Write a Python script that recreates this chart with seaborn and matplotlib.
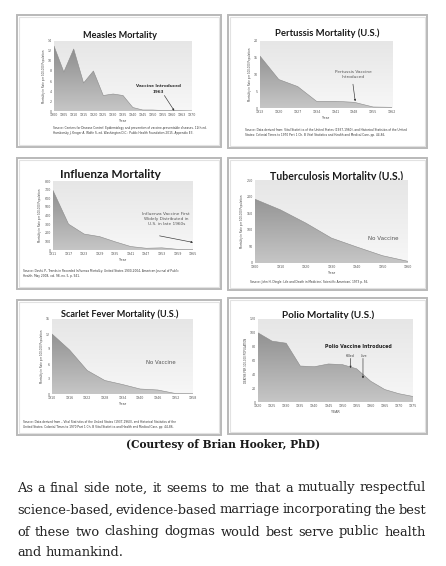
import numpy as np
import matplotlib
matplotlib.use("Agg")
import matplotlib.pyplot as plt
import seaborn as sns
from matplotlib.patches import Rectangle
from matplotlib.colors import LinearSegmentedColormap

sns.set_theme(style="white")
plt.rcParams['font.family'] = ['DejaVu Sans']

W, H = 446, 566

# ---- data ----
measles_years = ["1900", "1905", "1910", "1915", "1920", "1925", "1930", "1935",
                 "1940", "1945", "1950", "1955", "1960", "1963", "1970"]
measles_rate = [13.0, 7.8, 12.4, 5.6, 8.0, 3.1, 3.4, 3.1, 0.7, 0.2, 0.2, 0.1, 0.1, 0.05, 0.02]

pertussis_years = ["1913", "1920", "1927", "1934", "1941", "1948", "1955", "1962"]
pertussis_rate = [15.5, 8.5, 6.4, 2.0, 2.0, 1.7, 0.3, 0.2]

flu_years = ["1911", "1917", "1923", "1929", "1935", "1941", "1947", "1953", "1959", "1965"]
flu_rate = [690, 300, 185, 155, 95, 40, 20, 25, 8, 4]

tb_years = ["1900", "1910", "1920", "1930", "1940", "1950", "1960"]
tb_rate = [192, 160, 120, 75, 48, 22, 5]

scarlet_years = ["1910", "1916", "1922", "1928", "1934", "1940", "1946", "1952", "1958"]
scarlet_rate = [12.0, 8.8, 4.7, 2.7, 1.9, 1.0, 0.8, 0.1, 0.05]

polio_years = ["1920", "1925", "1930", "1935", "1940", "1945", "1950", "1955",
               "1960", "1965", "1970", "1975"]
polio_rate = [100, 88, 85, 52, 51, 55, 54, 48, 30, 18, 12, 8]

area_cmap = LinearSegmentedColormap.from_list("area", ["#c6c6c6", "#878787"])
back_cmap = LinearSegmentedColormap.from_list("back", ["#f7f7f7", "#e6e6e6"])

fig = plt.figure(figsize=(W / 100, H / 100), dpi=100)
bg = fig.add_axes([0, 0, 1, 1], zorder=0)
bg.set_xlim(0, W)
bg.set_ylim(H, 0)
bg.axis("off")


def box(x0, y0, x1, y1):
    bg.add_patch(Rectangle((x0, y0), x1 - x0, y1 - y0, fill=False,
                           ec="#b9b9b9", lw=1.4))
    bg.add_patch(Rectangle((x0 + 2, y0 + 2), x1 - x0 - 4, y1 - y0 - 4, fill=False,
                           ec="#e2e2e2", lw=0.8))


def panel(x0, y0, x1, y1, labels, values, ymax, ystep, ylabel, xlabel="Year"):
    ax = fig.add_axes([x0 / W, 1 - y1 / H, (x1 - x0) / W, (y1 - y0) / H], zorder=1)
    ax.set_facecolor("none")
    n = len(labels)
    pos = np.arange(n)
    grad = np.linspace(0, 1, 256).reshape(-1, 1)
    ax.imshow(grad, extent=[0, n - 1, 0, ymax], origin="lower", aspect="auto",
              cmap=back_cmap, zorder=0)
    fill = ax.fill_between(pos, values, 0, color="none", lw=0)
    im = ax.imshow(grad, extent=[0, n - 1, 0, ymax], origin="lower", aspect="auto",
                   cmap=area_cmap, zorder=1)
    im.set_clip_path(fill.get_paths()[0], transform=ax.transData)
    sns.lineplot(x=pos, y=values, ax=ax, color="#8a8a8a", lw=0.4, zorder=2)
    ax.set_xlim(0, n - 1)
    ax.set_ylim(0, ymax)
    ax.set_xticks(pos)
    ax.set_xticklabels(labels)
    ax.set_yticks(np.arange(0, ymax + ystep / 2, ystep))
    ax.tick_params(length=0, pad=1.5, labelsize=2.3, colors="#555555")
    for s in ax.spines.values():
        s.set_visible(False)
    ax.set_ylabel(ylabel, fontsize=1.9, labelpad=1.5, color="#444444")
    ax.set_xlabel(xlabel, fontsize=2.4, labelpad=1.5, color="#444444")
    ax.grid(False)
    return ax


def title(x, y, s, size):
    bg.text(x, y, s, ha="center", va="center", fontsize=size, fontweight="bold",
            family=["Lato", "DejaVu Sans"], color="#1a1a1a")


def source(x, y, lines):
    for i, ln in enumerate(lines):
        bg.text(x, y + i * 5.3, ln, ha="left", va="center", fontsize=2.1, color="#333333")


arrow = dict(arrowstyle="-|>", color="#333333", lw=0.45, mutation_scale=2.5,
             shrinkA=0, shrinkB=0)
ylab = "Mortality in Rate per 100,000 Population"

# Measles
box(17, 15, 221, 147)
title(120, 35, "Measles Mortality", 6.6)
ax = panel(54, 41, 192, 111, measles_years, measles_rate, 14, 2, ylab)
ax.text(10.6, 4.4, "Vaccine Introduced\n1963", ha="center", va="center", fontsize=3.0,
        fontweight="bold", color="#333333", linespacing=1.4)
ax.annotate("", xy=(12.2, 0.05), xytext=(11.2, 3.1), arrowprops=arrow)
source(53, 128, ["Source: Centers for Disease Control. Epidemiology and prevention of vaccine-preventable diseases. 12th ed.",
                 "Hamborsky J, Kroger A, Wolfe S, ed. Washington D.C.: Public Health Foundation 2015. Appendix E3."])

# Pertussis
box(228, 15, 427, 148)
title(327, 33, "Pertussis Mortality (U.S.)", 6.8)
ax = panel(260, 41, 392, 108, pertussis_years, pertussis_rate, 20, 5, ylab)
ax.text(4.96, 9.9, "Pertussis Vaccine\nIntroduced", ha="center", va="center", fontsize=3.1,
        color="#555555", linespacing=1.3)
ax.annotate("", xy=(5.05, 2.0), xytext=(4.93, 7.1), arrowprops=arrow)
source(245, 130, ["Source: Data derived from: Vital Statistics of the United States (1937-1960), and Historical Statistics of the United",
                  "States: Colonial Times to 1970 Part 1 Ch. B Vital Statistics and Health and Medical Care, pp. 44-86."])

# Influenza
box(17, 158, 221, 289)
title(110, 174, "Influenza Mortality", 8.5)
title(110, 188, "(U.S.)", 8.5)
ax = panel(53, 181, 193, 250, flu_years, flu_rate, 800, 100, ylab)
ax.text(7.28, 362, "Influenza Vaccine First\nWidely Distributed in\nU.S. in late 1960s",
        ha="center", va="center", fontsize=3.1, color="#555555", linespacing=1.35)
ax.annotate("", xy=(9.0, 88), xytext=(6.85, 164), arrowprops=arrow)
source(23, 271, ["Source: Doshi, P., Trends in Recorded Influenza Mortality: United States 1900-2004, American Journal of Public",
                 "Health, May 2008, vol. 98, no. 5, p. 941."])

# Tuberculosis
box(228, 158, 427, 290)
title(337, 176, "Tuberculosis Mortality (U.S.)", 7.6)
ax = panel(255, 180, 408, 263, tb_years, tb_rate, 250, 50, ylab)
ax.text(5.02, 73, "No Vaccine", ha="center", va="center", fontsize=4.0, color="#555555")
source(250, 282, ["Source: John H. Dingle: Life and Death in Medicine; Scientific American; 1973 p. 56."])

# Scarlet fever
box(17, 300, 221, 435)
title(120, 314, "Scarlet Fever Mortality (U.S.)", 6.6)
ax = panel(52, 319, 193, 394, scarlet_years, scarlet_rate, 15, 3, ylab)
ax.text(6.2, 6.2, "No Vaccine", ha="center", va="center", fontsize=3.9, color="#555555")
source(23, 422, ["Source: Data derived from – Vital Statistics of the United States (1937-1960), and Historical Statistics of the",
                 "United States: Colonial Times to 1970 Part 1 Ch. B Vital Statistics and Health and Medical Care, pp. 44-86."])

# Polio
box(228, 298, 427, 434)
title(328, 315, "Polio Mortality (U.S.)", 7.2)
ax = panel(258, 319, 413, 402, polio_years, polio_rate, 120, 20,
           "DEATHS PER 100,000 POPULATION", xlabel="YEAR")
ax.text(7.1, 80, "Polio Vaccine Introduced", ha="center", va="center", fontsize=3.4,
        fontweight="bold", color="#222222")
ax.text(6.5, 67, "Killed", ha="center", va="center", fontsize=2.3, color="#444444")
ax.text(7.55, 67, "Live", ha="center", va="center", fontsize=2.3, color="#444444")
ax.annotate("", xy=(6.57, 49), xytext=(6.57, 63), arrowprops=arrow)
ax.annotate("", xy=(7.45, 34), xytext=(7.45, 63), arrowprops=arrow)

# caption and paragraph
bg.text(223, 445, "(Courtesy of Brian Hooker, PhD)", ha="center", va="center",
        fontsize=7.7, fontweight="bold", family="DejaVu Serif", color="#1a1a1a")

para = ["As a final side note, it seems to me that a mutually respectful",
        "science-based, evidence-based marriage incorporating the best",
        "of these two clashing dogmas would best serve public health",
        "and humankind."]
line_y = [488, 510, 532, 553]
renderer = fig.canvas.get_renderer()
left, right = 17, 426
for k, (ln, y) in enumerate(zip(para, line_y)):
    words = ln.split()
    tx = [bg.text(0, y, w, ha="left", va="center", fontsize=9.4,
                  family="DejaVu Serif", color="#222222") for w in words]
    widths = [t.get_window_extent(renderer).width for t in tx]
    if k < len(para) - 1:
        gap = (right - left - sum(widths)) / (len(words) - 1)
    else:
        gap = tx[0].get_window_extent(renderer).height * 0.3
    x = left
    for t, w in zip(tx, widths):
        t.set_x(x)
        x += w + gap

fig.savefig("out.png", dpi=100, facecolor="white")
